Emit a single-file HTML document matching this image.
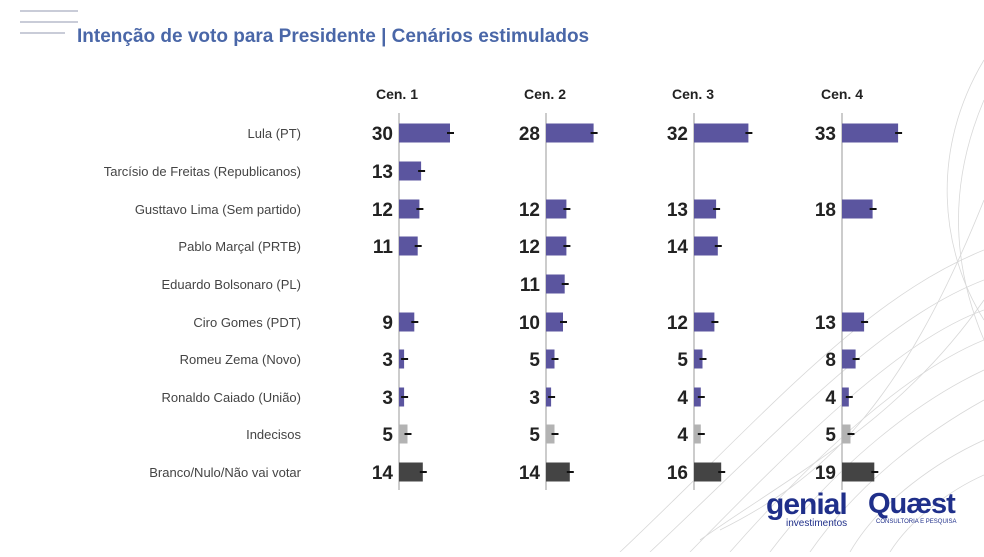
<!DOCTYPE html>
<html><head><meta charset="utf-8"><style>
body{margin:0;background:#fff;width:984px;height:552px;overflow:hidden;font-family:"Liberation Sans",sans-serif}
</style></head><body>
<svg width="984" height="552" viewBox="0 0 984 552" xmlns="http://www.w3.org/2000/svg" font-family="Liberation Sans, sans-serif">
<g stroke="#d8d8d8" fill="none" stroke-width="0.8">
<path d="M620 552 C760 420 860 300 984 250"/><path d="M650 552 C780 430 880 320 984 280"/>
<path d="M690 552 C800 440 900 340 984 310"/><path d="M730 552 C820 450 910 370 984 340"/>
<path d="M770 552 C840 460 920 400 984 370"/><path d="M810 552 C860 480 930 430 984 400"/>
<path d="M850 552 C880 500 940 460 984 440"/><path d="M890 552 C910 520 950 490 984 475"/>
<path d="M700 540 C800 470 900 420 984 300"/><path d="M720 530 C820 480 900 410 984 200"/>
<path d="M984 60 C930 150 940 250 984 320"/><path d="M984 100 C950 180 950 260 984 340"/>
</g>
<g fill="#c9ccd8"><rect x="20" y="10" width="58" height="2"/><rect x="20" y="21" width="58" height="2"/><rect x="20" y="32" width="45" height="2"/></g>
<text x="77" y="42" font-size="19" font-weight="bold" fill="#4a67a8">Intenção de voto para Presidente | Cenários estimulados</text>
<g font-size="14" font-weight="bold" fill="#222" text-anchor="middle">
<text x="397" y="99">Cen. 1</text><text x="545" y="99">Cen. 2</text><text x="693" y="99">Cen. 3</text><text x="842" y="99">Cen. 4</text></g>
<g stroke="#bbb" stroke-width="1.5"><line x1="399" y1="113" x2="399" y2="490"/><line x1="546" y1="113" x2="546" y2="490"/><line x1="694" y1="113" x2="694" y2="490"/><line x1="842" y1="113" x2="842" y2="490"/></g>
<g font-size="13" fill="#444" text-anchor="end">
<text x="301" y="138">Lula (PT)</text><text x="301" y="176">Tarcísio de Freitas (Republicanos)</text>
<text x="301" y="214">Gusttavo Lima (Sem partido)</text><text x="301" y="251">Pablo Marçal (PRTB)</text>
<text x="301" y="289">Eduardo Bolsonaro (PL)</text><text x="301" y="327">Ciro Gomes (PDT)</text>
<text x="301" y="364">Romeu Zema (Novo)</text><text x="301" y="402">Ronaldo Caiado (União)</text>
<text x="301" y="439">Indecisos</text><text x="301" y="477">Branco/Nulo/Não vai votar</text></g>
<g id="bars"></g>
</svg>
<script>
var ax=[399,546,694,842];
var rows=[133,171,209,246,284,322,359,397,434,472];
var d=[[30,28,32,33],[13,null,null,null],[12,12,13,18],[11,12,14,null],[null,11,null,null],[9,10,12,13],[3,5,5,8],[3,3,4,4],[5,5,4,5],[14,14,16,19]];
var s='';
for(var r=0;r<10;r++)for(var c=0;c<4;c++){var v=d[r][c];if(v==null)continue;
var col=r==8?'#b3b3b3':(r==9?'#444':'#5b559f');var w=v*1.7,x=ax[c],y=rows[r];
s+='<rect x="'+x+'" y="'+(y-9.5)+'" width="'+w+'" height="19" fill="'+col+'"/>';
s+='<line x1="'+(x+w-3)+'" x2="'+(x+w+4)+'" y1="'+y+'" y2="'+y+'" stroke="#111" stroke-width="2"/>';
s+='<text x="'+(x-6)+'" y="'+(y+7)+'" font-size="19" font-weight="bold" fill="#222" text-anchor="end">'+v+'</text>';}
document.getElementById('bars').innerHTML=s;
</script>
<div style="position:absolute;left:766px;top:488px;color:#1f2f8a;font:bold 30px 'Liberation Sans',sans-serif;letter-spacing:-1px">genial</div>
<div style="position:absolute;left:786px;top:518px;color:#1f2f8a;font:10px 'Liberation Sans',sans-serif">investimentos</div>
<div style="position:absolute;left:868px;top:488px;color:#1f2f8a;font:bold 29px 'Liberation Sans',sans-serif;letter-spacing:-1px">Quæst</div>
<div style="position:absolute;left:876px;top:519px;color:#1f2f8a;font:6px 'Liberation Sans',sans-serif">CONSULTORIA E PESQUISA</div>
</body></html>
